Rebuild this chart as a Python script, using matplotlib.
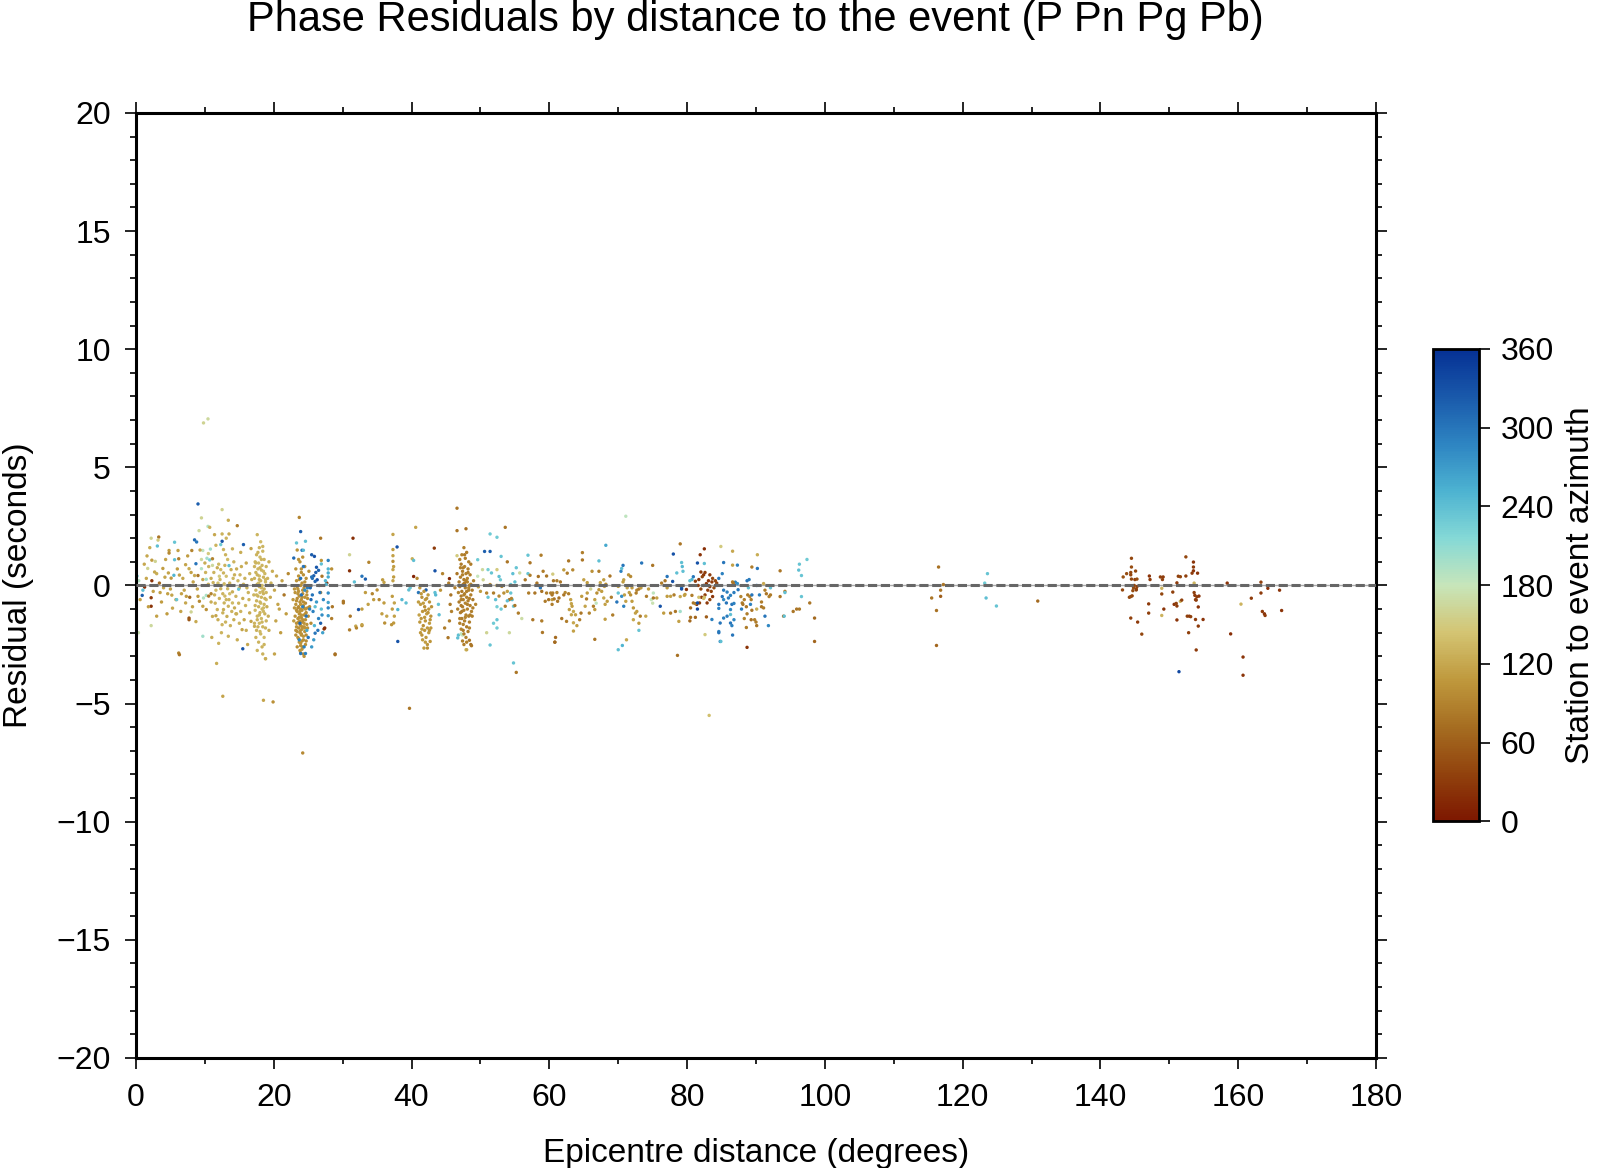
import numpy as np
import matplotlib
matplotlib.use('Agg')
from matplotlib import pyplot as plt
from matplotlib.colors import LinearSegmentedColormap
from matplotlib.ticker import MultipleLocator

plt.rcParams['font.family'] = ['Liberation Sans', 'DejaVu Sans']

# (distance deg, residual s, station-to-event azimuth deg)
near_pts = [
    (9.0, 3.45, 320), (9.5, 2.86, 160), (12.5, 3.21, 158), (13.4, 2.76, 125), (14.7, 2.53, 85),
    (10.45, 2.5, 190), (10.7, 2.46, 130), (9.15, 2.32, 165), (11.4, 2.15, 120), (12.5, 2.18, 128),
    (13.5, 2.18, 122), (8.5, 1.93, 310), (8.8, 1.84, 300), (5.6, 1.83, 235), (3.3, 2.05, 80),
    (2.2, 2.0, 160), (3.2, 1.92, 150), (3.1, 1.67, 240), (12.5, 1.87, 330), (12.3, 1.73, 230),
    (15.6, 1.73, 320), (16.7, 1.56, 118), (10.8, 1.54, 200), (9.7, 1.48, 185), (4.8, 1.48, 110),
    (4.8, 1.37, 95), (6.1, 1.48, 115), (8.1, 1.48, 90), (1.6, 1.25, 120), (2.8, 1.02, 160),
    (2.3, 1.07, 112), (5.6, 1.09, 240), (6.2, 1.13, 85), (8.7, 0.92, 300), (7.2, 0.88, 118),
    (7.7, 0.71, 125), (9.5, 1.1, 165), (10.3, 1.15, 200), (10.7, 1.08, 225), (11.1, 1.13, 90),
    (10.0, 0.95, 125), (10.55, 0.8, 130), (9.5, 0.71, 190), (13.5, 0.84, 240), (0.15, 0.4, 230),
    (0.4, 0.2, 190), (1.7, 0.72, 160), (2.7, 0.57, 120), (3.9, 0.72, 112), (4.7, 0.53, 118),
    (5.1, 0.31, 108), (5.5, 0.43, 250), (6.3, 0.44, 115), (2.3, 0.2, 25), (3.4, 0.1, 70),
    (8.5, 0.42, 122), (9.0, 0.42, 80), (10.2, 0.26, 200), (10.9, 0.3, 125), (11.2, 0.12, 130),
    (12.3, 0.67, 135), (12.7, 0.53, 130), (13.1, 0.39, 140), (12.8, 0.07, 132), (12.3, -0.14, 128),
    (13.3, -0.14, 135), (12.6, -0.35, 130), (13.6, -0.35, 138), (14.0, -0.27, 126), (13.1, -0.6, 132),
    (12.8, -0.74, 128), (13.4, -0.88, 130), (12.7, -1.02, 125), (14.0, -0.74, 135), (14.5, -0.46, 130),
    (15.0, -0.1, 128), (14.8, 0.2, 133), (14.3, 0.45, 127), (13.8, 0.67, 125), (13.3, 1.1, 135),
    (13.0, 1.3, 128), (12.7, 1.52, 130), (12.1, 0.39, 150), (11.9, 0.1, 140), (11.6, -0.2, 135),
    (11.4, -0.4, 128), (12.0, 0.9, 135), (14.2, 1.0, 130), (15.3, 0.8, 125), (15.8, 0.3, 128),
    (16.3, -0.3, 130), (15.5, -0.55, 125), (16.0, 0.95, 122), (16.5, 0.5, 128), (13.9, -1.1, 130),
    (14.6, -1.2, 128), (0.9, -0.42, 320), (1.25, -0.07, 20), (2.2, -0.52, 30), (2.2, -0.88, 25),
    (2.2, -1.7, 165), (0.35, -2.0, 175), (4.6, -0.35, 115), (5.2, -0.41, 118), (5.8, -0.6, 110),
    (5.3, -0.96, 120), (5.9, -0.6, 235), (6.6, -0.35, 115), (7.3, -0.46, 112), (7.2, -0.74, 120),
    (7.8, -0.5, 70), (7.7, -1.38, 50), (7.7, -1.45, 55), (8.0, -1.12, 160), (8.7, -1.53, 122),
    (9.0, -0.46, 110), (9.2, -0.67, 95), (9.7, -0.88, 118), (10.2, -1.02, 100), (9.8, -0.53, 190),
    (10.2, -0.42, 195), (10.55, -0.45, 80), (10.9, -0.35, 90), (9.7, -2.15, 200), (6.2, -2.86, 90),
    (11.7, -3.3, 125), (11.1, -1.31, 125), (11.6, -1.28, 118), (11.8, -1.02, 130), (12.6, -1.16, 128),
    (13.2, -1.31, 125), (12.5, -1.66, 130), (15.5, -2.68, 330), (15.4, -1.87, 118), (14.5, -1.2, 125),
    (15.2, -1.1, 130), (15.7, -1.45, 120), (16.5, -1.16, 122), (16.7, -1.52, 118), (17.2, -1.73, 125),
    (14.9, -0.16, 235), (12.6, -4.69, 118), (6.3, -2.93, 80), (1.0, -0.2, 240), (3.5, -0.3, 115),
    (4.0, -0.1, 120), (3.0, 0.5, 125), (1.2, 0.9, 120), (0.6, -0.6, 115), (6.8, 0.3, 120),
    (7.5, 1.25, 112), (8.3, 0.15, 118), (4.3, 1.1, 118), (2.0, 1.6, 125), (11.0, -2.2, 125),
    (12.0, -2.45, 130), (9.8, 6.88, 160), (10.45, 7.05, 165),
    (11.3, 0.55, 130), (11.8, 0.75, 125), (12.2, 0.25, 135), (12.9, 0.85, 130), (13.6, 0.1, 128),
    (14.1, 0.3, 133), (14.6, 0.7, 125), (15.1, 0.45, 130), (15.6, 0.05, 128), (16.1, -0.1, 132),
    (16.8, 0.25, 125), (11.5, -0.75, 130), (12.1, -0.55, 128), (12.9, -0.45, 135), (13.5, -0.6, 130),
    (14.3, -0.95, 125), (14.9, -0.75, 130), (15.9, -0.85, 128), (16.4, -0.6, 130), (11.9, -1.45, 125),
    (13.0, -1.55, 130), (13.7, -1.7, 128), (14.2, -1.45, 125), (15.0, -1.6, 130), (16.0, -1.9, 125),
    (12.4, -2.0, 130), (13.4, -2.15, 128), (14.7, -2.3, 125), (16.2, -2.5, 120), (10.5, 0.05, 130),
    (10.9, -0.7, 125), (10.1, 0.55, 128), (9.7, 0.25, 120), (8.9, -0.15, 118), (8.0, 0.55, 115),
    (7.0, -0.2, 118), (6.0, 0.7, 112), (5.0, -0.15, 115), (4.2, 0.35, 118), (3.7, -0.7, 110),
    (2.5, -0.25, 115), (1.5, 0.3, 120), (8.2, -0.9, 115), (6.5, -1.1, 118), (4.5, -1.2, 110),
    (3.0, -1.3, 115), (1.8, -0.9, 112), (9.3, 1.5, 120), (11.6, 1.7, 130), (14.0, 1.55, 128),
    (15.2, 1.4, 125), (13.1, 2.0, 130), (10.5, 1.35, 150), (11.1, 0.85, 165),
]

col18_pts = [
    (17.6, 2.15, 132), (18.1, 1.85, 135), (17.9, 1.6, 130), (18.4, 1.45, 133), (17.5, 1.3, 128),
    (18.0, 1.2, 135), (18.6, 1.1, 130), (17.3, 1.0, 132), (17.8, 0.95, 136), (18.3, 0.85, 130),
    (18.9, 0.8, 128), (17.7, 0.7, 134), (18.2, 0.65, 131), (17.4, 0.55, 129), (18.7, 0.5, 133),
    (17.9, 0.4, 135), (18.5, 0.35, 130), (17.2, 0.3, 128), (18.1, 0.2, 132), (18.8, 0.15, 134),
    (17.6, 0.05, 130), (18.3, 0.0, 136), (17.9, -0.05, 131), (18.6, -0.15, 129), (17.4, -0.2, 133),
    (18.0, -0.3, 135), (18.5, -0.35, 130), (17.7, -0.45, 128), (18.2, -0.5, 132), (18.9, -0.6, 134),
    (17.5, -0.65, 130), (18.1, -0.75, 136), (18.6, -0.8, 131), (17.8, -0.9, 129), (18.3, -1.0, 133),
    (17.3, -1.05, 135), (18.0, -1.15, 130), (18.7, -1.2, 128), (17.6, -1.3, 132), (18.2, -1.4, 134),
    (18.9, -1.5, 130), (17.9, -1.6, 136), (18.4, -1.75, 131), (17.5, -1.9, 129), (18.1, -2.05, 133),
    (18.6, -2.2, 135), (17.8, -2.4, 130), (18.3, -2.6, 128), (17.6, -2.75, 132), (18.8, -3.1, 134),
    (17.2, 0.8, 130), (19.1, 0.3, 128), (19.0, -0.9, 125), (17.1, -0.4, 132), (19.2, -1.3, 126),
    (18.4, 1.65, 132), (17.7, -1.75, 130), (18.5, -1.1, 134), (17.9, 0.25, 128), (18.2, -0.1, 133),
    (19.5, -0.5, 122), (20.1, -0.2, 120), (20.6, -0.8, 118), (21.2, 0.2, 115), (21.8, -1.2, 110),
    (20.3, -1.5, 118), (19.8, 0.6, 125), (21.0, -2.0, 112), (20.1, -2.9, 118), (18.8, -3.1, 125),
    (21.5, -0.4, 80), (22.1, 0.5, 95), (19.3, 1.0, 125), (20.8, -1.0, 118), (18.5, -4.86, 118),
    (19.9, -4.93, 100), (19.6, 0.1, 128), (20.4, 0.4, 120),
    (17.4, 0.95, 132), (18.0, 0.75, 130), (18.5, 0.6, 134), (17.6, 0.45, 128), (18.8, 0.25, 132),
    (17.8, 0.1, 135), (18.4, -0.25, 130), (17.5, -0.4, 133), (18.7, -0.55, 128), (18.0, -0.7, 132),
    (17.3, -0.85, 130), (18.5, -0.95, 135), (17.9, -1.25, 130), (18.3, -1.55, 132), (17.6, -1.45, 128),
    (18.8, -1.8, 130), (18.0, -1.95, 134), (17.4, -2.2, 130), (18.6, -2.5, 132), (18.2, 1.1, 130),
    (17.7, 1.4, 128), (18.9, -0.3, 133), (17.2, -1.6, 130), (18.4, -2.9, 128), (19.3, -1.9, 125),
]

col24_pts = [
    (23.7, 2.88, 90), (23.4, 1.5, 105), (24.2, 1.2, 100), (23.8, 1.0, 102), (24.5, 0.8, 98),
    (23.2, 0.7, 105), (24.0, 0.55, 100), (23.6, 0.4, 103), (24.7, 0.3, 99), (23.3, 0.2, 104),
    (24.1, 0.1, 101), (23.9, 0.0, 100), (24.4, -0.1, 97), (23.5, -0.15, 105), (24.8, -0.25, 100),
    (23.1, -0.3, 103), (24.2, -0.35, 99), (23.7, -0.45, 101), (24.5, -0.5, 104), (23.4, -0.55, 98),
    (24.0, -0.6, 102), (23.8, -0.7, 100), (24.6, -0.75, 97), (23.2, -0.8, 105), (24.3, -0.85, 101),
    (23.6, -0.9, 99), (24.9, -0.95, 103), (23.9, -1.0, 100), (24.1, -1.05, 102), (23.4, -1.1, 104),
    (24.7, -1.15, 98), (23.7, -1.2, 101), (24.4, -1.25, 100), (23.1, -1.3, 103), (24.0, -1.35, 99),
    (23.5, -1.4, 102), (24.6, -1.45, 100), (23.8, -1.5, 104), (24.2, -1.55, 98), (23.3, -1.6, 101),
    (24.8, -1.65, 103), (23.9, -1.7, 100), (24.4, -1.75, 102), (23.6, -1.8, 99), (24.1, -1.85, 105),
    (23.2, -1.9, 101), (24.5, -1.95, 100), (23.8, -2.0, 103), (24.0, -2.1, 98), (23.5, -2.2, 102),
    (24.3, -2.3, 100), (23.7, -2.4, 104), (24.6, -2.5, 101), (23.4, -2.6, 99), (24.1, -2.7, 103),
    (23.9, -2.85, 100), (24.4, -3.0, 102), (24.2, -7.09, 95), (23.0, -0.95, 106), (25.0, -1.3, 97),
    (23.6, -0.25, 104), (24.9, -0.55, 100), (23.3, -1.75, 103), (24.7, -2.1, 99), (23.9, -2.55, 101),
    (24.3, 0.45, 100), (22.8, -0.6, 108), (25.2, -0.9, 95), (22.9, -1.5, 110), (25.4, -1.6, 96),
    (23.5, -0.35, 103), (24.1, -0.5, 100), (23.9, -0.8, 105), (24.4, -0.95, 99), (23.3, -1.05, 102),
    (24.6, -1.2, 100), (23.7, -1.35, 104), (24.2, -1.45, 101), (23.8, -1.65, 99), (24.5, -1.8, 103),
    (23.4, -1.95, 100), (24.0, -2.05, 102), (24.3, -2.15, 105), (23.6, -2.25, 100), (24.7, -2.35, 98),
    (23.9, -2.45, 103), (24.2, -2.6, 100), (23.8, -2.75, 104), (23.3, -0.65, 101), (24.8, -0.4, 100),
    (24.0, -1.25, 103), (23.6, -1.55, 99), (24.4, -1.6, 104), (23.2, -2.1, 100), (24.9, -1.8, 102),
    (23.5, -0.95, 97), (24.1, -1.75, 100), (24.6, -1.0, 104), (23.9, -1.9, 101), (24.3, -0.7, 99),
    (23.7, 0.25, 102), (24.5, 0.15, 100), (23.4, -0.05, 104), (24.2, -0.2, 101), (23.0, -0.15, 106),
    (24.0, 0.7, 100), (23.6, 1.1, 104), (24.3, -2.9, 100), (23.8, -1.1, 103), (24.1, -2.35, 100),
    (24.0, -0.4, 300), (24.2, -0.9, 290), (23.8, -1.6, 310), (24.5, -0.2, 280), (23.9, 0.3, 305),
    (24.3, 0.8, 300), (23.9, 2.28, 320), (24.6, 1.87, 240), (23.3, 1.8, 235), (24.1, 1.49, 300),
    (24.3, 1.49, 245), (25.5, 1.3, 320), (25.9, 1.23, 330), (22.9, 1.16, 310), (26.9, 1.06, 105),
    (27.9, 1.06, 290), (26.9, 0.91, 240), (26.2, 0.77, 325), (28.4, 0.7, 100), (27.9, 0.7, 250),
    (27.9, 0.53, 255), (27.9, 0.36, 260), (26.5, 0.64, 315), (25.8, 0.41, 320), (25.5, 0.36, 300),
    (26.3, 0.24, 330), (26.0, 0.17, 315), (27.0, 0.39, 80), (27.7, 0.1, 30), (27.9, -0.32, 280),
    (27.9, -0.72, 265), (27.9, -0.95, 290), (27.9, -1.28, 270), (27.4, -1.8, 20), (28.9, -2.9, 70),
    (26.0, -2.02, 300), (26.8, -1.6, 320), (26.5, -1.4, 290), (27.0, -1.25, 280), (25.9, -1.7, 250),
    (25.6, -0.4, 300), (26.2, -0.7, 270), (26.0, -0.9, 240), (25.7, -1.1, 290), (23.9, -2.88, 300),
    (24.6, -2.88, 290), (28.5, -0.9, 80), (28.4, -1.4, 85), (25.3, -0.1, 310), (26.6, 0.0, 280),
    (24.8, -1.9, 260), (23.7, -2.3, 285), (25.1, 0.6, 100), (26.8, 2.0, 80), (26.8, -0.3, 95),
    (25.8, -2.3, 270), (27.3, -1.84, 20), (28.9, -2.93, 75), (27.6, 0.05, 250),
    (24.7, -1.3, 300), (25.2, -1.0, 290), (25.4, -0.6, 310), (24.9, -0.1, 295), (25.6, 0.3, 305),
    (26.1, 0.55, 320), (26.7, -0.3, 300), (27.2, -0.6, 285), (27.5, 0.2, 250), (25.0, -2.2, 300),
    (24.4, -2.6, 290), (26.4, -1.9, 300), (25.5, -2.6, 270), (27.1, -2.0, 265), (26.9, -1.0, 240),
]

mid_pts = [
    (31.5, 2.0, 20), (31.0, 1.3, 160), (31.0, 0.62, 20), (31.7, 0.15, 240), (31.1, -1.3, 80),
    (31.0, -1.88, 85), (30.1, -0.74, 80), (32.3, -1.02, 330), (31.9, -1.72, 120), (30.1, -0.67, 80),
    (32.0, -1.8, 90), (32.8, -1.7, 95), (33.8, 0.98, 90), (33.3, 0.27, 320), (32.8, 0.39, 300),
    (32.8, -1.0, 110), (32.8, -1.66, 115), (33.3, -0.3, 110), (34.3, -0.35, 90), (33.7, -0.8, 115),
    (35.0, -0.19, 100), (34.5, -0.6, 110), (35.3, -0.6, 95), (36.0, -0.74, 110), (36.1, -1.59, 100),
    (37.1, -1.66, 105), (35.7, -1.2, 112), (36.4, -1.3, 118), (35.8, 0.24, 110), (36.0, 0.13, 115),
    (37.3, 2.16, 118), (37.3, 1.52, 110), (37.3, 1.26, 115), (37.3, 1.02, 100), (37.4, 0.8, 112),
    (37.3, 0.67, 118), (37.4, 0.36, 110), (37.3, 0.2, 115), (37.2, -0.46, 110), (37.5, -0.74, 118),
    (37.2, -1.0, 112), (37.5, -1.3, 115), (37.4, -1.59, 108), (37.9, 1.63, 330), (38.0, -2.37, 330),
    (39.6, -0.19, 240), (39.8, -0.1, 235), (38.6, -0.6, 245), (39.2, -0.74, 240), (38.0, -1.02, 250),
    (39.7, -5.2, 80), (40.6, 2.46, 118), (40.1, 1.13, 125), (40.3, 1.06, 240), (40.3, 0.38, 10),
    (43.3, 1.58, 30), (43.4, 0.62, 330), (43.4, -0.3, 240), (43.5, -0.4, 245), (43.9, -0.8, 235),
    (44.0, -1.24, 240), (42.1, -0.19, 320), (41.0, -0.3, 300), (40.8, 0.3, 95),
    (41.2, -0.1, 108), (41.8, -0.25, 105), (42.4, -0.4, 110), (41.5, -0.5, 102), (42.0, -0.6, 108),
    (42.6, -0.7, 105), (41.3, -0.8, 110), (41.9, -0.9, 100), (42.5, -1.0, 108), (41.6, -1.1, 105),
    (42.2, -1.2, 112), (42.8, -1.3, 103), (41.4, -1.4, 108), (42.0, -1.5, 105), (42.6, -1.6, 110),
    (41.7, -1.7, 100), (42.3, -1.8, 108), (41.9, -1.9, 105), (42.5, -2.0, 110), (41.5, -2.1, 103),
    (42.1, -2.2, 108), (42.7, -2.37, 105), (41.8, -2.65, 110), (42.3, -2.65, 100), (42.0, -2.4, 112),
    (41.1, -1.25, 115), (42.9, -0.9, 100), (41.3, -2.0, 108), (42.8, -1.8, 106), (41.0, -0.7, 110),
    (41.4, -0.35, 108), (42.2, -0.55, 105), (41.7, -0.75, 110), (42.4, -1.15, 103), (41.2, -1.55, 108),
    (42.6, -1.9, 105), (41.6, -2.3, 110), (42.0, -1.05, 100), (41.9, -1.35, 108), (42.3, -2.5, 105),
    (41.5, -1.85, 112), (42.7, -1.45, 105),
    (45.3, -2.21, 80), (45.5, -1.5, 85), (45.6, -0.8, 82), (45.7, -0.4, 78), (45.4, 0.1, 85),
    (45.8, -1.1, 88), (45.5, 0.29, 15), (46.8, -2.1, 240), (47.4, -2.1, 180), (46.7, -2.22, 240),
    (47.2, -2.05, 185), (48.4, -2.32, 80), (48.6, -2.5, 75), (47.9, -2.72, 140), (48.0, -2.72, 120),
    (48.7, -2.55, 80), (46.6, 3.27, 80), (46.6, 2.32, 80), (46.6, 1.26, 150), (49.6, 1.09, 230),
    (49.6, 0.39, 180), (49.7, -0.06, 110), (44.5, 0.5, 90), (44.2, -0.2, 105), (44.8, -1.8, 85),
]

col47_pts = [
    (47.6, 1.6, 88), (48.0, 1.4, 85), (47.3, 1.3, 90), (47.8, 1.15, 86), (48.3, 1.0, 88),
    (47.2, 0.9, 84), (47.7, 0.8, 90), (48.2, 0.7, 87), (47.4, 0.6, 85), (47.9, 0.5, 89),
    (48.5, 0.45, 86), (47.1, 0.35, 88), (47.6, 0.25, 84), (48.1, 0.15, 90), (47.5, 0.05, 87),
    (48.4, 0.0, 85), (47.0, -0.05, 89), (47.8, -0.1, 86), (48.3, -0.2, 88), (47.3, -0.25, 84),
    (47.7, -0.35, 90), (48.6, -0.4, 87), (47.2, -0.45, 85), (48.0, -0.5, 89), (47.5, -0.6, 86),
    (48.2, -0.65, 88), (46.9, -0.7, 84), (47.8, -0.75, 90), (48.5, -0.85, 87), (47.4, -0.9, 85),
    (48.1, -1.0, 89), (47.6, -1.05, 86), (48.7, -1.1, 88), (47.1, -1.15, 84), (47.9, -1.25, 90),
    (48.3, -1.3, 87), (47.3, -1.4, 85), (47.7, -1.5, 89), (48.4, -1.55, 86), (47.5, -1.65, 88),
    (48.0, -1.75, 84), (47.2, -1.85, 90), (48.2, -1.95, 87), (47.6, -2.05, 85), (47.9, -2.2, 89),
    (47.4, -2.35, 86), (48.1, 0.3, 92), (47.7, 0.1, 80), (48.8, -0.2, 85), (46.8, -0.3, 90),
    (48.9, -0.6, 82), (46.7, -1.0, 88), (48.6, 0.9, 84), (47.0, 1.1, 90), (48.8, -1.3, 86),
    (46.6, 0.5, 80), (49.0, 0.2, 88), (47.9, 2.4, 75), (46.3, -0.1, 85), (49.3, -0.8, 92),
    (47.5, 0.75, 88), (48.0, -0.25, 86), (47.2, -0.85, 84), (48.4, -1.8, 90), (47.0, -1.6, 86),
    (47.4, 0.45, 88), (47.9, 0.2, 85), (48.3, -0.1, 90), (47.6, -0.4, 86), (48.1, -0.8, 88),
    (47.3, -1.1, 84), (47.8, -1.35, 90), (48.5, -1.25, 87), (47.5, -1.9, 85), (48.0, -2.4, 89),
    (47.1, 0.75, 86), (48.2, 0.55, 88), (47.7, 1.3, 84), (48.6, 0.05, 90), (47.2, -0.6, 87),
    (48.4, -0.55, 85), (47.0, -1.4, 89), (48.9, -0.95, 86), (47.6, -2.5, 88), (46.9, 0.15, 84),
]

far_pts = [
    (50.0, -0.25, 110), (50.4, 0.24, 160), (50.9, -0.32, 90), (51.1, -0.5, 235), (51.4, 0.04, 100),
    (51.9, -0.32, 85), (52.2, -0.6, 240), (52.4, 0.0, 110), (52.7, -0.45, 95), (52.9, 0.24, 230),
    (53.1, -0.04, 90), (53.4, -0.32, 100), (53.6, -0.88, 85), (53.9, -0.25, 115), (54.2, -0.6, 80),
    (54.4, 0.04, 230), (51.6, 0.53, 235), (51.1, 0.67, 225), (52.4, 0.67, 150), (52.7, 0.38, 240),
    (54.7, 0.5, 240), (55.0, 0.15, 238), (55.2, 0.75, 235), (54.8, -0.88, 232), (54.6, -0.6, 240),
    (53.0, -1.0, 230), (52.4, -1.45, 235), (51.9, -1.6, 230), (52.4, -0.9, 225), (53.9, -0.65, 240),
    (54.4, -0.32, 235), (56.9, 0.5, 235), (51.4, 1.44, 320), (51.4, 2.18, 230), (52.4, 2.04, 230),
    (53.6, 2.46, 80), (56.9, 1.28, 235), (58.8, 1.28, 85), (57.2, 0.96, 80), (53.0, 1.23, 235),
    (53.9, 1.0, 80), (50.6, 1.44, 320), (55.2, -3.68, 80), (54.8, -3.28, 235), (51.4, -2.52, 235),
    (59.0, -1.99, 80), (60.9, -2.2, 70), (54.2, -2.0, 165), (50.9, -2.0, 160), (52.4, -1.8, 230),
    (50.3, 0.67, 165), (55.7, 0.53, 165), (56.0, -1.4, 170), (55.5, -1.17, 85), (54.5, -0.55, 90),
    (55.0, -0.85, 80), (57.0, -0.32, 85), (57.9, -0.32, 80), (58.9, -0.25, 75), (59.6, -0.32, 85),
    (60.4, -0.4, 80), (59.9, -0.6, 78), (59.4, -0.67, 82), (60.2, -0.32, 85), (57.6, -1.45, 80),
    (58.9, -1.5, 85), (56.5, 0.24, 80), (57.2, 0.43, 85), (58.4, 0.38, 75), (59.6, 0.4, 80),
    (59.1, 0.6, 85), (58.2, 0.1, 80), (58.7, -0.1, 300), (60.5, 0.48, 150), (62.1, 0.66, 110),
    (62.6, 0.52, 85), (63.4, 0.66, 95), (60.6, 0.2, 80), (61.1, 0.2, 85), (61.6, 0.15, 80),
    (60.5, -0.32, 85), (61.1, -0.3, 90), (62.3, -0.3, 95), (62.1, -0.4, 80), (62.8, -0.35, 85),
    (60.4, -0.6, 110), (60.7, -0.57, 80), (60.4, -0.8, 85), (61.4, -0.53, 75), (61.2, -0.67, 80),
    (63.1, -0.6, 115), (63.2, -0.77, 118), (63.3, -0.88, 110), (63.5, -1.1, 120), (62.9, -1.02, 112),
    (63.2, -1.24, 118), (63.8, -1.24, 115), (63.5, -1.58, 120), (64.0, -1.7, 112), (63.5, -1.93, 115),
    (62.5, -1.52, 85), (61.8, -1.4, 80), (60.8, -2.4, 75), (66.6, -2.28, 80), (64.8, 1.39, 85),
    (64.8, 1.08, 80), (62.8, 1.04, 80), (67.2, 1.04, 240), (65.0, 0.24, 115), (65.5, 0.12, 110),
    (66.2, 0.6, 100), (67.2, 0.6, 85), (67.4, 0.12, 120), (67.9, 0.24, 110), (68.0, -0.04, 115),
    (67.6, -0.25, 110), (67.2, -0.18, 105), (66.9, -0.32, 100), (66.6, -0.6, 115), (67.9, -0.53, 120),
    (68.4, -0.67, 110), (68.1, -0.8, 115), (66.4, -0.88, 85), (65.8, -1.17, 90), (66.6, -1.02, 110),
    (68.1, -1.43, 112), (69.2, -1.25, 85), (65.5, -0.32, 110), (65.4, -0.57, 85), (65.2, -0.88, 118),
    (64.6, -1.17, 80), (64.7, -0.46, 110), (64.4, -1.45, 85), (68.2, 0.05, 100), (66.0, -0.15, 160),
    (70.0, -0.04, 110), (70.8, 0.24, 115), (71.5, 0.45, 105), (71.8, 0.38, 95), (70.7, 0.15, 110),
    (71.3, -0.1, 118), (71.6, -0.3, 110), (70.9, -0.4, 115), (71.8, -0.4, 100), (71.1, -0.67, 115),
    (72.0, -0.67, 110), (72.2, -0.95, 108), (72.5, -1.17, 115), (72.7, -1.1, 112), (72.2, -1.45, 120),
    (73.0, -1.6, 110), (73.2, -1.3, 85), (72.7, -0.2, 90), (73.0, -0.15, 80), (73.3, -0.1, 110),
    (72.6, -0.32, 85), (72.0, -0.1, 112), (70.0, -0.32, 235), (69.8, -0.7, 300), (70.5, -0.46, 280),
    (70.8, -0.88, 290), (73.0, -1.9, 235), (70.0, -2.72, 240), (70.6, -2.54, 250), (71.2, -2.3, 120),
    (74.8, -0.6, 180), (75.1, -0.32, 185), (75.0, -0.75, 175), (66.8, -0.75, 185), (74.4, -0.15, 110),
    (74.1, -0.46, 85), (75.1, -0.53, 80), (75.6, -0.53, 115), (76.3, 0.1, 85), (76.8, 0.2, 80),
    (77.1, -0.46, 110), (77.6, -0.46, 115), (78.1, -0.4, 85), (76.6, -1.17, 110), (77.6, -1.17, 85),
    (78.3, -1.1, 80), (78.8, -1.52, 115), (77.1, -0.1, 110), (76.1, -0.88, 330), (74.0, -1.3, 120),
    (77.1, 0.38, 300), (77.9, 0.17, 330), (78.5, 0.53, 240), (79.2, -0.1, 300), (71.1, 2.93, 185),
    (68.2, 1.7, 260), (78.0, 1.33, 330), (73.4, 0.95, 300), (75.0, 0.85, 80), (70.4, 0.6, 290),
    (70.7, 0.85, 300), (70.5, 0.72, 240), (79.0, 1.76, 80), (60.8, -2.4, 70), (78.6, -2.96, 75),
    (83.2, -5.5, 140), (69.0, -0.5, 85), (68.8, 0.4, 80),
]

dist80_pts = [
    (82.5, 1.55, 20), (81.9, 1.3, 25), (84.9, 1.65, 150), (86.6, 1.45, 120), (90.2, 1.3, 125),
    (81.5, 0.95, 330), (82.5, 0.93, 240), (85.3, 0.97, 300), (87.3, 0.86, 290), (86.6, 0.86, 115),
    (89.4, 0.78, 85), (90.2, 0.72, 300), (93.5, 0.62, 80), (97.4, 1.1, 230), (96.3, 0.9, 235),
    (96.2, 0.65, 240), (96.6, 0.42, 235), (79.2, 0.97, 240), (79.3, 0.8, 245), (79.4, 0.6, 240),
    (80.9, 0.37, 300), (80.7, 0.25, 250), (80.4, 0.2, 240), (82.0, 0.57, 30), (82.6, 0.55, 35),
    (82.4, 0.45, 28), (82.2, 0.37, 40), (81.7, 0.25, 25), (81.2, 0.18, 35), (83.3, 0.45, 30),
    (83.7, 0.3, 38), (83.1, 0.2, 25), (83.6, 0.15, 32), (84.1, 0.2, 40), (82.8, 0.08, 28),
    (83.3, -0.05, 35), (83.0, -0.2, 30), (83.5, -0.25, 38), (83.7, -0.47, 25), (82.6, -0.4, 33),
    (82.1, -0.5, 28), (83.3, -0.6, 40), (82.9, -0.74, 30), (81.8, -0.74, 35), (81.4, -0.8, 25),
    (82.4, 0.0, 20), (83.9, -0.1, 45), (84.3, 0.1, 35), (82.0, -0.15, 40), (81.6, 0.0, 30),
    (79.2, -0.15, 330), (79.9, -0.17, 20), (79.0, -0.47, 120), (79.6, -0.42, 115), (79.7, -0.38, 110),
    (80.7, -0.42, 85), (80.9, -0.74, 80), (81.2, -0.77, 85), (81.7, -0.5, 140), (82.4, -0.55, 135),
    (82.5, -0.5, 140), (81.5, -0.74, 335), (81.5, -1.0, 340), (80.5, -0.95, 70), (81.2, -1.35, 65),
    (80.5, -1.35, 75), (80.4, -1.5, 70), (79.0, -1.1, 200), (82.8, -1.33, 60), (82.6, -2.08, 150),
    (83.6, -1.44, 290), (84.6, -0.8, 300), (84.6, -0.97, 290), (85.3, -0.6, 285), (85.7, -0.74, 300),
    (86.0, -0.53, 295), (86.3, -0.42, 290), (86.5, -0.8, 300), (86.3, -1.02, 285), (86.8, -0.76, 290),
    (86.8, -0.3, 295), (87.0, 0.14, 290), (87.3, 0.08, 280), (87.4, -0.18, 300), (85.3, -1.38, 290),
    (85.8, -1.3, 295), (86.3, -1.59, 300), (86.8, -1.45, 285), (86.5, -1.7, 290), (84.8, -1.59, 300),
    (84.6, -1.95, 290), (84.8, -2.37, 285), (86.6, -2.1, 300), (86.3, -1.23, 240), (85.1, -0.47, 300),
    (85.3, -0.2, 295), (85.8, -0.28, 290), (84.3, 0.0, 240), (84.6, 0.3, 300), (85.1, 0.5, 290),
    (84.6, -2.0, 300), (84.9, -2.37, 240), (86.6, 0.15, 85), (86.7, 0.1, 80), (87.8, -0.47, 90),
    (88.0, -0.74, 85), (88.1, -0.8, 80), (88.3, -0.6, 88), (88.8, -0.4, 82), (89.1, -0.47, 90),
    (89.3, -0.6, 85), (88.6, -0.9, 80), (88.7, -1.2, 85), (88.3, -1.4, 90), (88.6, -1.78, 85),
    (89.8, -1.45, 88), (90.0, -1.55, 85), (90.1, -1.7, 80), (89.3, -1.45, 75), (89.4, -1.05, 80),
    (90.8, -0.7, 85), (91.1, 0.08, 120), (91.3, -0.2, 85), (91.5, -0.35, 80), (91.9, -0.47, 88),
    (92.1, -0.4, 82), (90.8, -0.9, 80), (90.1, -1.0, 125), (91.1, -0.95, 85), (93.5, -0.47, 80),
    (94.2, -0.25, 85), (94.0, -1.3, 75), (95.9, -1.0, 80), (96.3, -1.0, 82), (97.8, -0.74, 80),
    (98.5, -1.38, 70), (98.5, -2.37, 65), (94.1, -1.3, 240), (95.4, -1.1, 80), (94.2, -0.3, 240),
    (96.6, -0.47, 235), (88.7, -2.62, 25), (88.7, 0.2, 300), (89.0, 0.25, 295), (89.4, -0.4, 300),
    (90.5, -0.4, 290), (90.1, 0.0, 300), (91.3, -1.3, 300), (91.8, -1.7, 285), (89.2, -0.8, 290),
    (88.9, -0.1, 240), (87.9, -1.0, 295), (92.1, -0.1, 240),
]

remote_pts = [
    (116.5, 0.78, 75), (117.2, 0.04, 80), (116.8, -0.2, 78), (116.8, -0.46, 60), (115.5, -0.53, 80),
    (116.2, -1.06, 75), (116.2, -2.54, 65), (123.6, 0.5, 235), (123.2, 0.1, 230), (123.4, -0.53, 240),
    (124.9, -0.87, 235), (130.9, -0.66, 70),
    (144.5, 1.15, 40), (144.5, 0.78, 45), (145.1, 0.61, 40), (143.8, 0.5, 45), (144.4, 0.55, 40),
    (144.4, 0.45, 38), (143.3, 0.36, 50), (144.5, 0.27, 40), (145.0, 0.25, 35), (145.3, 0.27, 45),
    (144.9, 0.0, 40), (145.3, -0.05, 35), (144.8, -0.1, 45), (145.2, -0.15, 38), (143.2, -0.19, 40),
    (144.7, -0.22, 45), (145.2, -0.19, 35), (144.2, -0.5, 40), (144.6, -0.44, 38), (144.4, -0.47, 45),
    (144.4, -1.38, 35), (145.4, -1.55, 30), (146.0, -2.06, 40), (147.1, 0.4, 25), (147.2, 0.25, 30),
    (147.0, -0.78, 30), (147.0, -1.17, 35), (148.7, 0.36, 35), (149.1, 0.36, 30), (149.0, 0.25, 35),
    (148.9, -0.12, 130), (148.9, -0.36, 40), (149.2, -1.0, 25), (148.9, -1.27, 130), (150.5, -0.28, 35),
    (150.7, -0.8, 25), (151.1, -0.87, 30), (151.0, -0.76, 35), (151.1, 0.11, 30), (151.1, -1.46, 25),
    (151.3, 0.39, 35), (151.6, 0.37, 40), (151.6, -0.67, 130), (151.8, -0.62, 35), (151.4, -3.65, 340),
    (152.4, 1.21, 40), (152.4, 0.4, 35), (153.5, 0.99, 25), (153.5, 0.78, 30), (153.5, 0.62, 25),
    (153.3, 0.52, 30), (154.1, 0.52, 25), (153.6, 0.1, 130), (153.6, -0.3, 35), (153.7, -0.42, 30),
    (154.3, -0.45, 25), (154.0, -0.48, 30), (153.8, -0.6, 35), (153.9, -0.62, 30), (154.2, -0.91, 25),
    (152.6, -1.3, 35), (152.9, -1.3, 30), (153.1, -1.32, 35), (153.8, -1.44, 30), (154.9, -1.44, 25),
    (154.2, -1.72, 30), (152.8, -2.0, 35), (153.9, -2.73, 30), (158.4, 0.1, 25), (158.9, -2.05, 20),
    (160.4, -0.79, 130), (161.9, -0.54, 30), (160.7, -3.03, 25), (160.7, -3.8, 25), (163.3, 0.14, 35),
    (164.3, -0.12, 20), (163.3, -0.32, 30), (166.0, -0.2, 25), (163.5, -1.1, 30), (163.8, -1.2, 25),
    (163.9, -1.27, 30), (166.3, -1.06, 25),
]

groups = [near_pts, col18_pts, col24_pts, mid_pts, col47_pts, far_pts, dist80_pts, remote_pts]
dist = np.array([p[0] for g in groups for p in g])
resid = np.array([p[1] for g in groups for p in g])
azim = np.array([p[2] for g in groups for p in g])

# roma-like palette, dark red at 0 -> blue at 360
roma = LinearSegmentedColormap.from_list('roma', [
    (0.0, (0.49, 0.09, 0.0)), (0.1, (0.57, 0.26, 0.05)), (0.2, (0.65, 0.43, 0.13)),
    (0.3, (0.75, 0.6, 0.24)), (0.4, (0.83, 0.77, 0.45)), (0.5, (0.78, 0.9, 0.73)),
    (0.6, (0.52, 0.85, 0.84)), (0.7, (0.3, 0.7, 0.82)), (0.8, (0.18, 0.52, 0.76)),
    (0.9, (0.1, 0.35, 0.67)), (1.0, (0.02, 0.19, 0.58))])

fig = plt.figure(figsize=(16, 11.68), dpi=100)
ax = fig.add_axes([0.085, 0.0942, 0.775, 0.8091])

ax.axhline(0, color='#aaaaaa', lw=1.0, zorder=1)
ax.axhline(0, color='#666666', lw=2.2, ls=(0, (3, 1.2)), zorder=3)
sc = ax.scatter(dist, resid, c=azim, cmap=roma, vmin=0, vmax=360, s=6, marker='o',
                linewidths=0, zorder=2)

ax.set_xlim(0, 180)
ax.set_ylim(-20, 20)
ax.xaxis.set_major_locator(MultipleLocator(20))
ax.xaxis.set_minor_locator(MultipleLocator(10))
ax.yaxis.set_major_locator(MultipleLocator(5))
ax.yaxis.set_minor_locator(MultipleLocator(1))
ax.tick_params(which='both', direction='out', top=True, right=True, width=1.2, labelsize=23)
ax.tick_params(which='major', length=8)
ax.tick_params(which='minor', length=4)
ax.tick_params(axis='x', pad=10)
ax.tick_params(axis='y', pad=10)
for s in ax.spines.values():
    s.set_linewidth(2.2)

ax.set_xlabel('Epicentre distance (degrees)', fontsize=24, labelpad=18)
ax.set_ylabel('Residual (seconds)', fontsize=24, labelpad=16)
fig.text(0.472, 0.983, 'Phase Residuals by distance to the event (P Pn Pg Pb)',
         fontsize=30, ha='center', va='center')

cax = fig.add_axes([0.8954, 0.2967, 0.0287, 0.4045])
cb = fig.colorbar(sc, cax=cax, ticks=[0, 60, 120, 180, 240, 300, 360])
cb.outline.set_linewidth(2)
cax.tick_params(direction='out', length=8, width=1.2, labelsize=23, pad=8)
cb.set_label('Station to event azimuth', fontsize=24, labelpad=8)

fig.savefig('out.png', dpi=100)
